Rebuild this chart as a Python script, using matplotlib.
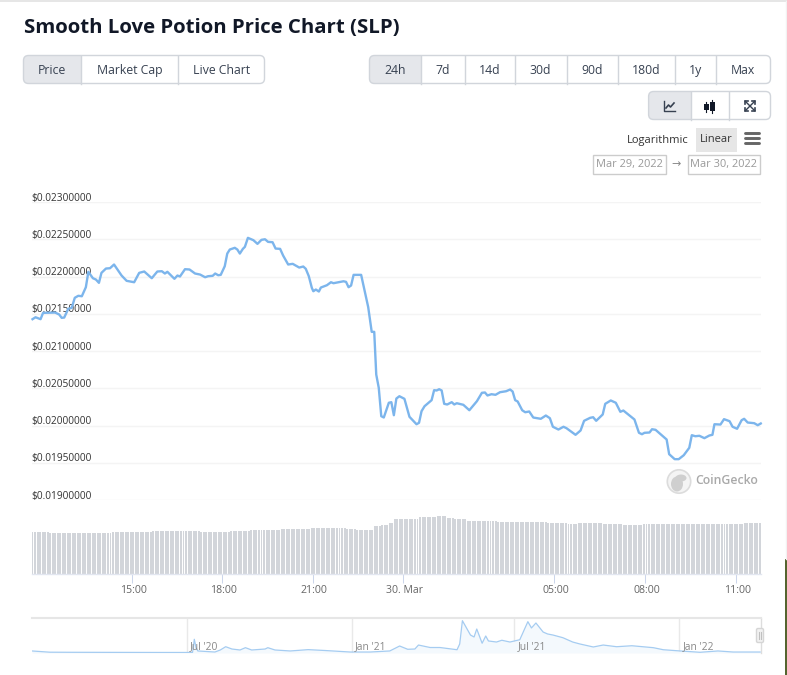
import matplotlib
matplotlib.use("Agg")
import matplotlib.pyplot as plt
import matplotlib.transforms as mtrans
import numpy as np
from matplotlib.patches import FancyBboxPatch, Rectangle, Circle, Ellipse

# ---------- data ----------
price_minutes = [1,7,17,22,46,54,59,64,72,79,85,92,99,107,112,121,127,133,138,147,155,163,178,188,203,213,223,238,249,258,264,269,283,289,294,304,313,324,334,344,350,359,364,370,375,383,388,393,403,408,413,419,423,429,440,448,456,463,469,478,484,493,499,509,518,531,539,544,550,556,559,564,570,574,586,594,599,619,624,629,634,639,654,668,675,680,684,689,694,699,709,714,719,724,730,740,750,764,769,774,780,794,799,804,809,814,819,825,834,839,844,857,869,884,894,900,905,913,921,930,942,950,955,960,965,974,980,988,996,1011,1021,1029,1035,1046,1056,1062,1080,1090,1097,1109,1115,1121,1134,1139,1150,1160,1169,1175,1197,1206,1212,1217,1227,1232,1239,1261,1266,1277,1285,1295,1306,1311,1318,1326,1336,1346,1352,1356,1368,1375,1386,1392,1401,1410,1415,1422,1435,1442,1448]
price_e8 = [21427,21453,21427,21512,21516,21490,21445,21449,21566,21580,21714,21741,21735,21856,22063,21977,21959,21915,22049,22107,22111,22161,22013,21942,21923,22049,22067,21977,22067,22071,22040,22063,21969,22013,22000,22098,22094,22040,22026,21990,22004,22009,22040,22017,22022,22138,22308,22362,22385,22362,22308,22371,22398,22519,22487,22438,22492,22500,22465,22460,22375,22371,22281,22161,22170,22120,22134,22103,22004,21848,21802,21825,21798,21852,21883,21923,21910,21936,21928,21856,21879,22022,22022,21590,21257,21257,20684,20506,20125,20107,20305,20313,20138,20362,20393,20358,20117,20017,20036,20192,20259,20340,20474,20470,20487,20470,20291,20282,20313,20282,20299,20278,20205,20326,20439,20443,20403,20420,20412,20447,20460,20483,20456,20340,20322,20205,20178,20188,20107,20090,20134,20098,19983,19946,19983,19964,19875,19933,20063,20103,20111,20063,20148,20291,20336,20305,20184,20201,20081,19902,19883,19902,19906,19950,19942,19812,19615,19548,19548,19601,19701,19870,19856,19862,19830,19866,19875,20017,20013,20085,20058,19983,19956,20071,20090,20040,20031,20004,20027]
price_ticks = [0.0190,0.0195,0.0200,0.0205,0.0210,0.0215,0.0220,0.0225,0.0230]
price_tick_labels = ["$0.01900000","$0.01950000","$0.02000000","$0.02050000","$0.02100000","$0.02150000","$0.02200000","$0.02250000","$0.02300000"]
time_ticks = [198,378,558,738,1038,1218,1398]
time_tick_labels = ["15:00","18:00","21:00","30. Mar","05:00","08:00","11:00"]

volume_levels = [42.5,41.5,41,41,42,43,42,43,44,45,46,45,44,48,49.5,51,55,57,58,56.5,55.5,53.5,52.5,52,51,50.5,51.5,50,49.5,50.5,51.5]
volume_runs   = [7,10,9,6,16,19,12,8,12,12,14,4,7,3,3,2,10,7,4,3,5,12,14,6,8,4,10,8,8,40,8]

nav_days  = [-173,-153,-130,-30,6,7,8,10,12,31,37,43,50,59,65,72,87,90,98,115,135,154,182,204,226,237,246,254,258,271,282,301,304,307,316,320,323,329,333,336,345,351,360,371,380,384,389,397,402,408,419,430,438,453,464,479,496,520,531,550,572,592,609,639]
nav_price = [.023,.009,.008,.006,.006,.068,.155,.057,.023,.011,.034,.071,.045,.034,.060,.034,.045,.060,.034,.023,.038,.028,.011,.011,.023,.079,.042,.045,.090,.062,.062,.037,.102,.365,.203,.181,.271,.110,.192,.136,.124,.144,.124,.150,.354,.283,.339,.237,.215,.203,.173,.124,.102,.068,.090,.071,.082,.060,.037,.023,.008,.023,.011,.011]
nav_ticks = [0,184,365,549]
nav_tick_labels = ["Jul '20","Jan '21","Jul '21","Jan '22"]

title = "Smooth Love Potion Price Chart (SLP)"
W, H = 787, 675
FONT = "Open Sans"
plt.rcParams["font.family"] = [FONT, "DejaVu Sans"]
fig = plt.figure(figsize=(W/100, H/100), dpi=100, facecolor="white")

def pos(x0, y0, x1, y1):
    return [x0/W, 1-y1/H, (x1-x0)/W, (y1-y0)/H]

# ---------- page furniture in pixel coordinates ----------
bg = fig.add_axes([0, 0, 1, 1], zorder=0)
bg.set_xlim(0, W); bg.set_ylim(H, 0); bg.axis("off")

bg.plot([0, 787], [0.7, 0.7], color="#e2e2e2", lw=1.2)
bg.plot([785.5, 785.5], [1, 559], color="#f2f2f2", lw=1)
bg.add_patch(Rectangle((785, 559), 2, 116, color="#55652f", lw=0))
bg.text(23.5, 28.5, title, fontsize=14.7, fontweight="bold", color="#111827", va="center", ha="left")

def button_group(x0, x1, y0, y1, dividers, labels, active=True):
    edges = [x0] + dividers + [x1]
    if active:
        clip = FancyBboxPatch((x0, y0), x1-x0, y1-y0, boxstyle="round,pad=0,rounding_size=5", fc="none", ec="none")
        bg.add_patch(clip)
        r = Rectangle((x0, y0), edges[1]-x0, y1-y0, fc="#e5e7eb", ec="none")
        bg.add_patch(r); r.set_clip_path(clip)
    bg.add_patch(FancyBboxPatch((x0, y0), x1-x0, y1-y0, boxstyle="round,pad=0,rounding_size=5", fc="none", ec="#d1d5db", lw=1))
    for d in dividers:
        bg.plot([d, d], [y0, y1], color="#d1d5db", lw=1)
    for i, t in enumerate(labels):
        bg.text((edges[i]+edges[i+1])/2, (y0+y1)/2+1, t, fontsize=8.8, color="#374151", ha="center", va="center")

button_group(23.5, 264.5, 55.5, 83.5, [81, 178], ["Price", "Market Cap", "Live Chart"])
button_group(369.5, 770.5, 55.5, 83.5, [420.7, 465, 514.5, 566.8, 617.5, 674.7, 716],
             ["24h", "7d", "14d", "30d", "90d", "180d", "1y", "Max"])
button_group(648.6, 770.5, 91.5, 119.5, [690.8, 729.4], ["", "", ""])

# toolbar icons
bg.plot([664, 664, 675], [101, 111, 111], color="#374151", lw=1.0)
bg.plot([666, 668.5, 670.5, 674], [108, 105, 107, 103], color="#374151", lw=1.2)
for cx, y0, y1, b0, b1 in [(706, 102, 112, 104, 110), (712, 100, 113, 102, 111)]:
    bg.plot([cx, cx], [y0, y1], color="#111827", lw=0.8)
    bg.add_patch(Rectangle((cx-2.5, b0), 5, b1-b0, color="#111827", lw=0))
bg.plot([745, 755], [101, 111], color="#374151", lw=1)
bg.plot([745, 755], [111, 101], color="#374151", lw=1)
for sx, sy in [(745, 101), (755, 101), (745, 111), (755, 111)]:
    dx = 3 if sx < 750 else -3
    dy = 3 if sy < 106 else -3
    bg.plot([sx+dx, sx, sx], [sy, sy, sy+dy], color="#374151", lw=1.2)

# range / scale controls
bg.text(658, 140, "Logarithmic", fontsize=8.0, color="#333333", ha="center", va="center")
bg.add_patch(Rectangle((696, 128), 40.5, 24, fc="#e6e6e6", ec="none"))
bg.text(716.2, 140, "Linear", fontsize=8.0, color="#333333", ha="center", va="center")
for y in [133, 138, 143]:
    bg.plot([744.5, 758.5], [y, y], color="#666666", lw=2.1, solid_capstyle="round")
for x0, x1, t in [(593, 665.5, "Mar 29, 2022"), (687.7, 760, "Mar 30, 2022")]:
    bg.add_patch(Rectangle((x0, 154.5), x1-x0, 19, fc="white", ec="#cccccc", lw=1))
    bg.text((x0+x1)/2, 164, t, fontsize=7.9, color="#999999", ha="center", va="center")
bg.text(676.5, 164, "→", fontsize=8, color="#888888", ha="center", va="center", family="DejaVu Sans")

# ---------- volume ----------
ax_v = fig.add_axes(pos(32, 510, 761, 574), zorder=1)
ax_v.patch.set_alpha(0)
volumes = np.repeat(volume_levels, volume_runs)
vol_minutes = np.arange(len(volumes)) * 5 + 1
ax_v.bar(vol_minutes, volumes, width=3.9, color="#d2d5da", lw=0, align="center")
ax_v.set_xlim(0, 1448.5); ax_v.set_ylim(0, 64)
for s in ["top", "left", "right"]:
    ax_v.spines[s].set_visible(False)
ax_v.spines["bottom"].set_color("#e2e6f0"); ax_v.spines["bottom"].set_linewidth(1)
ax_v.set_yticks([])
ax_v.set_xticks(time_ticks)
ax_v.set_xticklabels(time_tick_labels, fontsize=7.6, color="#666666")
ax_v.tick_params(axis="x", length=6.5, width=0.75, color="#ccd6eb", pad=1.5)
shift_x = mtrans.ScaledTranslation(1.5/100, 0, fig.dpi_scale_trans)
for lab in ax_v.get_xticklabels():
    lab.set_transform(lab.get_transform() + shift_x)

# ---------- price ----------
ax = fig.add_axes(pos(32, 202, 761, 500), zorder=2)
ax.patch.set_alpha(0)
ax.plot(price_minutes, np.array(price_e8)*1e-6, color="#7cb5ec", lw=1.7, solid_joinstyle="round", clip_on=False, zorder=3)
ax.set_xlim(0, 1448.5); ax.set_ylim(0.019, 0.023)
for s in ax.spines.values():
    s.set_visible(False)
ax.set_xticks([])
ax.set_yticks(price_ticks)
ax.set_yticklabels(price_tick_labels, fontsize=7.25, color="#333333")
ax.tick_params(axis="y", length=0, pad=0)
shift_y = mtrans.ScaledTranslation(-0.5/100, -1.7/100, fig.dpi_scale_trans)
for lab in ax.get_yticklabels():
    lab.set_ha("left"); lab.set_va("bottom")
    lab.set_transform(lab.get_transform() + shift_y)
ax.grid(axis="y", color="#f4f4f4", lw=1, zorder=0)
ax.set_axisbelow(True)

# watermark
bg.add_patch(Circle((679, 481.5), 11.7, fc="#f4f4f4", ec="#dcdcdc", lw=1.2))
bg.add_patch(Ellipse((677, 484), 12, 15, fc="#cfcfcf", ec="none"))
bg.add_patch(Ellipse((681, 478), 11, 7, fc="#cfcfcf", ec="none"))
bg.text(695, 481, "CoinGecko", fontsize=8.8, fontweight="semibold", color="#a9a9a9", ha="left", va="center")

# ---------- navigator ----------
ax_n = fig.add_axes(pos(32, 618, 761, 653), zorder=1)
ax_n.patch.set_alpha(0)
ax_n.set_xlim(-173, 640); ax_n.set_ylim(0, 0.3955)
ax_n.fill_between(nav_days, nav_price, 0, color="#f4f9fd", lw=0)
ax_n.plot(nav_days, nav_price, color="#a5ccf1", lw=0.9, zorder=3)
for s in ax_n.spines.values():
    s.set_visible(False)
ax_n.spines["top"].set_visible(True); ax_n.spines["top"].set_color("#e6e6e6"); ax_n.spines["top"].set_linewidth(1.5)
ax_n.spines["right"].set_visible(True); ax_n.spines["right"].set_color("#dddddd"); ax_n.spines["right"].set_linewidth(1)
ax_n.set_yticks([]); ax_n.set_xticks(nav_ticks); ax_n.set_xticklabels([])
ax_n.tick_params(axis="x", length=0)
ax_n.grid(axis="x", color="#e9e9e9", lw=1)
ax_n.set_axisbelow(True)
for d, t in zip(nav_ticks, nav_tick_labels):
    ax_n.annotate(t, (d, 0), xytext=(2.2, 0.8), textcoords="offset points", fontsize=7.4, color="#888888", ha="left", va="bottom")

# navigator handle, top layer
fg = fig.add_axes([0, 0, 1, 1], zorder=5)
fg.set_xlim(0, W); fg.set_ylim(H, 0); fg.axis("off")
fg.add_patch(FancyBboxPatch((756.5, 628.5), 7, 14, boxstyle="round,pad=0,rounding_size=1.5", fc="#f2f2f2", ec="#d5d5d5", lw=1))
fg.plot([759, 759], [632, 639], color="#c0c0c0", lw=0.8)
fg.plot([761, 761], [632, 639], color="#c0c0c0", lw=0.8)

fig.savefig("out.png", dpi=100)
